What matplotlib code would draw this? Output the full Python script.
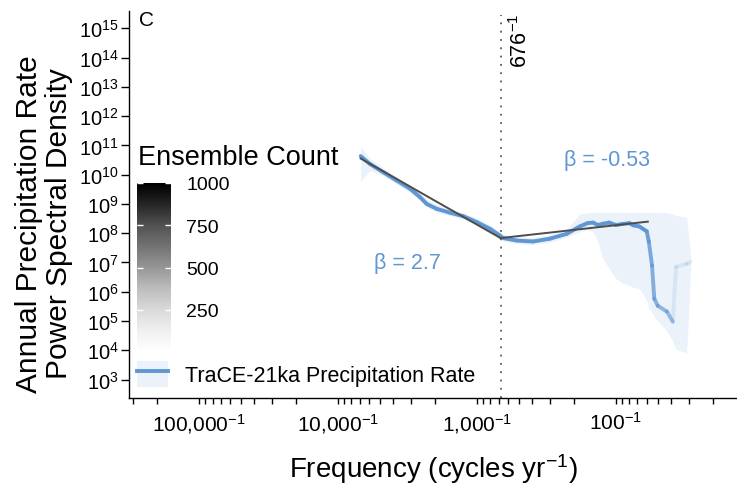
import numpy as np
import matplotlib
matplotlib.use("Agg")
import matplotlib.pyplot as plt
from matplotlib.collections import LineCollection
from matplotlib.colors import Normalize, to_rgba
from matplotlib.cm import ScalarMappable
from matplotlib.lines import Line2D
from matplotlib.patches import Patch
from matplotlib.legend_handler import HandlerTuple
from matplotlib.ticker import FixedLocator, NullFormatter

plt.rcParams['font.family'] = ['Liberation Sans', 'DejaVu Sans']
plt.rcParams['mathtext.fontset'] = 'custom'
plt.rcParams['mathtext.rm'] = 'Liberation Sans'
plt.rcParams['mathtext.it'] = 'Liberation Sans:italic'
plt.rcParams['mathtext.default'] = 'regular'


# TraCE-21ka annual precipitation rate spectrum (period in years)
period = np.array([6870, 5890, 4720, 3785, 3034, 2570, 2301, 1950, 1563, 1256,
                   1005, 805, 684, 650, 518, 395, 298, 226, 182, 160,
                   146, 135, 124, 112, 100, 90, 80, 75, 68, 60,
                   58, 55, 53, 50, 43, 39, 37, 31, 29])

psd = np.array([4.3e10, 2.3e10, 1.2e10, 6.3e9, 3.3e9, 1.7e9, 1.0e9, 6.8e8, 5.0e8, 3.8e8,
                2.4e8, 1.4e8, 8.3e7, 6.8e7, 5.6e7, 5.2e7, 6.5e7, 9.5e7, 1.7e8, 2.2e8,
                2.3e8, 1.9e8, 2.1e8, 2.3e8, 1.9e8, 2.05e8, 2.2e8, 1.85e8, 1.7e8, 1.15e8,
                5.1e7, 7.8e6, 5.8e5, 3.3e5, 2.1e5, 9.5e4, 7.1e6, 8.9e6, 1.05e7])

psd_hi = np.array([9.5e10, 3.5e10, 1.7e10, 8.5e9, 4.5e9, 2.3e9, 1.4e9, 9.3e8, 6.8e8, 5.0e8,
                   3.2e8, 1.9e8, 1.1e8, 9.1e7, 7.6e7, 7.1e7, 8.9e7, 1.4e8, 4.5e8, 5.0e8,
                   5.2e8, 5.0e8, 5.2e8, 5.0e8, 5.2e8, 5.0e8, 5.2e8, 5.0e8, 5.2e8, 5.0e8,
                   5.2e8, 5.0e8, 5.2e8, 5.0e8, 5.0e8, 4.5e8, 4.0e8, 3.5e8, 1.6e7])

psd_lo = np.array([5.8e9, 1.4e10, 8.9e9, 4.8e9, 2.5e9, 1.3e9, 7.6e8, 5.2e8, 4.0e8, 3.0e8,
                   1.9e8, 1.1e8, 6.6e7, 5.4e7, 4.4e7, 4.1e7, 4.9e7, 7.2e7, 1.1e8, 1.3e8,
                   1.1e8, 5.0e7, 1.35e7, 6.3e6, 2.8e6, 2.0e6, 1.6e6, 1.4e6, 1.3e6, 5.0e5,
                   2.8e5, 2.0e5, 1.4e5, 1.0e5, 4.5e4, 2.0e4, 1.1e4, 7.9e3, 6.3e6])

ens_count = np.array([1000] * 30 + [900, 800, 750, 700, 650, 600, 150, 150, 150])

# scaling break and fitted slopes on either side of it
break_period = 676
psd_break = 6.8e7
beta_low = 2.7
beta_high = -0.53
fit_low_end = 6870
fit_high_end = 59

x_label_periods = [100000, 10000, 1000, 100]
y_exponents = list(range(3, 16))

blue = '#5F96D3'
freq = 1.0 / period

fig = plt.figure(figsize=(7.37, 4.89), dpi=100)
ax = fig.add_axes([129 / 737, 1 - 398.5 / 489, 1 - 129 / 737, 386.5 / 489])
ax.set_xscale('log')
ax.set_yscale('log')
ax.set_xlim(10 ** -5.504, 10 ** -1.129)
ax.set_ylim(10 ** 2.386, 10 ** 15.59)

# ensemble spread
ax.fill_between(freq, psd_lo, psd_hi, color=blue, alpha=0.12, linewidth=0)

# spectrum, faded where fewer ensemble members contribute
pts = np.column_stack([freq, psd])
segs = np.stack([pts[:-1], pts[1:]], axis=1)
seg_alpha = np.minimum(ens_count[:-1], ens_count[1:]) / 1000
seg_cols = [to_rgba(blue, a) for a in seg_alpha]
lc = LineCollection(segs, colors=seg_cols, linewidths=2.8, capstyle='round', zorder=3)
ax.add_collection(lc)

# power-law fits
f1 = np.array([1 / fit_low_end, 1 / break_period])
ax.plot(f1, psd_break * (f1 * break_period) ** (-beta_low), color='#4d4d4d', lw=1.4, zorder=4)
f2 = np.array([1 / break_period, 1 / fit_high_end])
ax.plot(f2, psd_break * (f2 * break_period) ** (-beta_high), color='#4d4d4d', lw=1.4, zorder=4)

ax.axvline(1 / break_period, ymax=0.99, color='#5a5a5a', lw=1.3, linestyle=(0, (1, 3.6)))
ax.annotate('$676^{-1}$', xy=(1 / break_period, 1), xycoords=('data', 'axes fraction'),
            xytext=(14.5, -1), textcoords='offset points', rotation=90,
            ha='center', va='top', fontsize=15.5)

ax.text(10 ** -2.065, 10 ** 10.5, 'β = %g' % beta_high, color=blue, fontsize=15.5,
        ha='center', va='center')
ax.text(10 ** -3.504, 10 ** 6.99, 'β = %g' % beta_low, color=blue, fontsize=15.5,
        ha='center', va='center')

# axes styling
for s in ['top', 'right']:
    ax.spines[s].set_visible(False)
for s in ['left', 'bottom']:
    ax.spines[s].set_linewidth(1.0)

minor_periods = [n * 10 ** k for k in range(1, 6) for n in range(2, 10)]
ax.xaxis.set_major_locator(FixedLocator([1 / p for p in x_label_periods]))
ax.xaxis.set_minor_locator(FixedLocator([1 / p for p in minor_periods]))
ax.set_xticklabels(['$%s^{-1}$' % format(p, ',').replace(',', '{,}') for p in x_label_periods])
ax.xaxis.set_minor_formatter(NullFormatter())
ax.tick_params(axis='x', which='both', length=4.5, width=1, labelsize=15, pad=5)

ax.yaxis.set_major_locator(FixedLocator([10.0 ** e for e in y_exponents]))
ax.yaxis.set_minor_locator(FixedLocator([]))
ax.set_yticklabels(['$10^{%d}$' % e for e in y_exponents])
ax.tick_params(axis='y', length=5.5, width=1, labelsize=14.5, pad=2)

ax.set_xlabel('Frequency (cycles yr$^{-1}$)', fontsize=20, labelpad=12)
fig.text(44 / 737, 1 - 224 / 489, 'Annual Precipitation Rate\nPower Spectral Density',
         rotation=90, ha='center', va='center', fontsize=21.5, linespacing=1.08)
fig.text(139 / 737, 1 - 11 / 489, 'C', fontsize=15, ha='left', va='top')

# ensemble count colour bar
cax = fig.add_axes([137 / 737, 1 - 353 / 489, 34 / 737, 169 / 489])
cb = fig.colorbar(ScalarMappable(Normalize(0, 1000), cmap='Greys'), cax=cax)
cb.outline.set_visible(False)
cb.set_ticks([250, 500, 750, 1000])
cax.tick_params(axis='y', direction='in', left=True, right=True, color='white',
                length=4, width=1, labelsize=14, pad=11)
fig.text(138 / 737, 1 - 165 / 489, 'Ensemble Count', fontsize=19.5, va='baseline')

h_band = Patch(facecolor=blue, alpha=0.12, edgecolor='none')
h_line = Line2D([], [], color=blue, lw=2.8)
ax.legend([(h_band, h_line)], ['TraCE-21ka Precipitation Rate'],
          handler_map={tuple: HandlerTuple(ndivide=1, pad=0)},
          loc='upper left', bbox_to_anchor=(137 / 737, 1 - 362 / 489),
          bbox_transform=fig.transFigure, frameon=False, fontsize=15.5,
          borderpad=0, borderaxespad=0, handlelength=1.45, handleheight=1.45,
          handletextpad=0.8)

fig.savefig('out.png', dpi=100)
